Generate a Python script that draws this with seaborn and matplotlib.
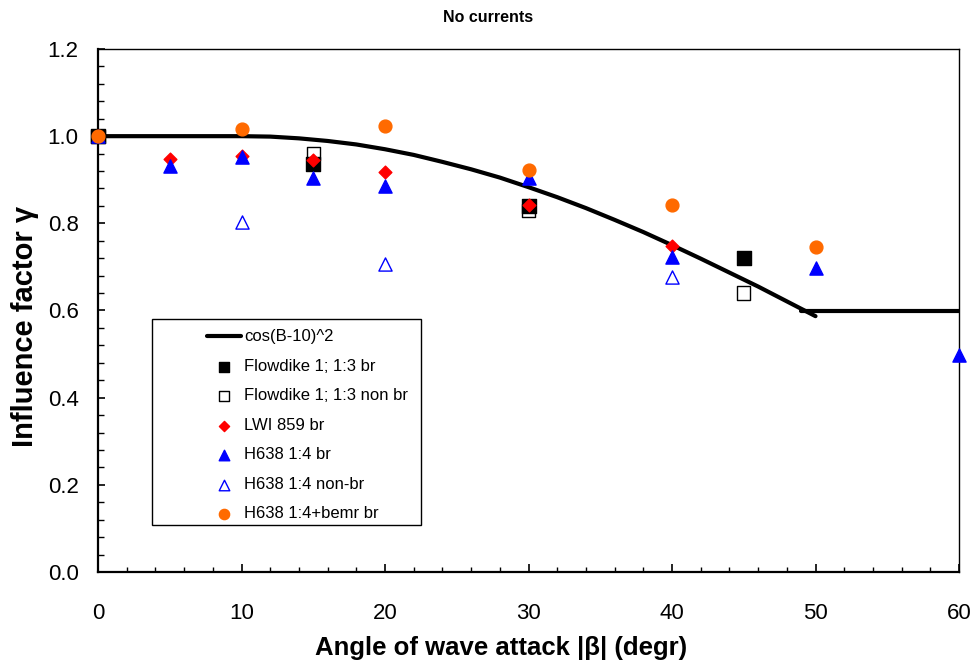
import matplotlib
matplotlib.use("Agg")
import matplotlib.pyplot as plt
from matplotlib.ticker import MultipleLocator, FormatStrFormatter
from matplotlib.patches import Rectangle
import seaborn as sns

# ---- data ----
curve_beta = [0, 10, 12, 14, 16, 18, 20, 22, 24, 26, 28, 30, 32, 34, 36, 38, 40, 42, 44, 46, 48, 50]
curve_gamma = [1.0, 1.0, 0.999, 0.995, 0.989, 0.981, 0.970, 0.957, 0.941, 0.924, 0.905, 0.883,
               0.860, 0.835, 0.808, 0.780, 0.750, 0.719, 0.687, 0.655, 0.621, 0.587]
flat_beta = [49, 60]
flat_gamma = [0.6, 0.6]

fd_br_beta = [0, 15, 30, 45]
fd_br_gamma = [1.0, 0.935, 0.84, 0.72]
fd_nbr_beta = [0, 15, 30, 45]
fd_nbr_gamma = [1.0, 0.96, 0.83, 0.64]
lwi_beta = [5, 10, 15, 20, 30, 40]
lwi_gamma = [0.947, 0.955, 0.946, 0.918, 0.841, 0.749]
h638_br_beta = [0, 5, 10, 15, 20, 30, 40, 50, 60]
h638_br_gamma = [1.0, 0.932, 0.953, 0.903, 0.886, 0.903, 0.722, 0.697, 0.497]
h638_nbr_beta = [10, 20, 40]
h638_nbr_gamma = [0.802, 0.706, 0.677]
bemr_beta = [0, 10, 20, 30, 40, 50]
bemr_gamma = [1.0, 1.016, 1.024, 0.923, 0.842, 0.746]

labels = ["cos(B-10)^2", "Flowdike 1; 1:3 br", "Flowdike 1; 1:3 non br", "LWI 859 br",
          "H638 1:4 br", "H638 1:4 non-br", "H638 1:4+bemr br"]

sns.set_theme(style="white")
plt.rcParams["font.family"] = ["Liberation Sans", "DejaVu Sans"]
plt.rcParams["text.color"] = "black"
plt.rcParams["axes.labelcolor"] = "black"
plt.rcParams["xtick.color"] = "black"
plt.rcParams["ytick.color"] = "black"

fig = plt.figure(figsize=(9.77, 6.66), dpi=100)
ax = fig.add_axes([98 / 977, 1 - 572 / 666, 861 / 977, 523 / 666])

sns.lineplot(x=curve_beta, y=curve_gamma, ax=ax, color="black", linewidth=3.0,
             sort=False, label=labels[0], zorder=2)
sns.lineplot(x=flat_beta, y=flat_gamma, ax=ax, color="black", linewidth=3.0,
             sort=False, legend=False, zorder=2)

common = dict(ax=ax, clip_on=False, linewidth=1.0)
sns.scatterplot(x=fd_nbr_beta, y=fd_nbr_gamma, marker="s", s=90, facecolor="none",
                edgecolor="black", label=labels[2], zorder=3.0, **common)
sns.scatterplot(x=fd_br_beta, y=fd_br_gamma, marker="s", s=90, color="black",
                edgecolor="black", label=labels[1], zorder=3.1, **common)
sns.scatterplot(x=lwi_beta, y=lwi_gamma, marker="D", s=42, color="#ff0000",
                edgecolor="#ff0000", label=labels[3], zorder=3.2, **common)
sns.scatterplot(x=h638_br_beta, y=h638_br_gamma, marker="^", s=90, color="#0000ff",
                edgecolor="#0000ff", label=labels[4], zorder=3.3, **common)
sns.scatterplot(x=h638_nbr_beta, y=h638_nbr_gamma, marker="^", s=90, facecolor="white",
                edgecolor="#0000ff", label=labels[5], zorder=3.4, **common)
sns.scatterplot(x=bemr_beta, y=bemr_gamma, marker="o", s=85, color="#ff6a00",
                edgecolor="#ff6a00", label=labels[6], zorder=3.5, **common)

ax.set_xlim(0, 60)
ax.set_ylim(0, 1.2)
ax.xaxis.set_major_locator(MultipleLocator(10))
ax.xaxis.set_minor_locator(MultipleLocator(2))
ax.yaxis.set_major_locator(MultipleLocator(0.2))
ax.yaxis.set_minor_locator(MultipleLocator(0.04))
ax.yaxis.set_major_formatter(FormatStrFormatter("%.1f"))
ax.tick_params(axis="x", which="major", direction="in", length=6, width=1.2,
               labelsize=16, pad=22, colors="black", bottom=True)
ax.tick_params(axis="x", which="minor", direction="in", length=3.5, width=1.0, bottom=True)
ax.tick_params(axis="y", which="major", direction="in", length=5, width=1.2,
               labelsize=16, pad=14, colors="black", left=True)
ax.tick_params(axis="y", which="minor", direction="in", length=4, width=1.0, left=True)

for side in ["left", "bottom"]:
    ax.spines[side].set_linewidth(1.6)
for side in ["top", "right"]:
    ax.spines[side].set_linewidth(1.0)
for sp in ax.spines.values():
    sp.set_color("black")
    sp.set_visible(True)

ax.set_xlabel("Angle of wave attack |β| (degr)", fontsize=18.5, fontweight="bold",
              color="black")
ax.xaxis.set_label_coords(0.468, -0.122)
ax.set_ylabel("Influence factor γ", fontsize=21, fontweight="bold", color="black")
ax.yaxis.set_label_coords(-0.0685, 0.470)
fig.text(0.5, 1 - 17 / 666, "No currents", ha="center", va="center",
         fontsize=11.5, fontweight="bold", color="black")

handles, lbls = ax.get_legend_handles_labels()
order = [lbls.index(l) for l in labels]
leg = ax.legend([handles[i] for i in order], [lbls[i] for i in order],
                loc="upper left", bbox_to_anchor=(0.1266, 0.4637), frameon=False,
                fontsize=12, borderpad=0, borderaxespad=0, handlelength=2.04,
                handletextpad=0.2, labelspacing=0.87, markerscale=0.8)
for t in leg.get_texts():
    t.set_color("black")
ax.add_patch(Rectangle((0.0627, 0.0899), (421 - 152) / 861, 0.4837 - 0.0899,
                       transform=ax.transAxes, fill=False, edgecolor="black",
                       linewidth=1.0, zorder=5, clip_on=False))

fig.savefig("out.png", dpi=100)
